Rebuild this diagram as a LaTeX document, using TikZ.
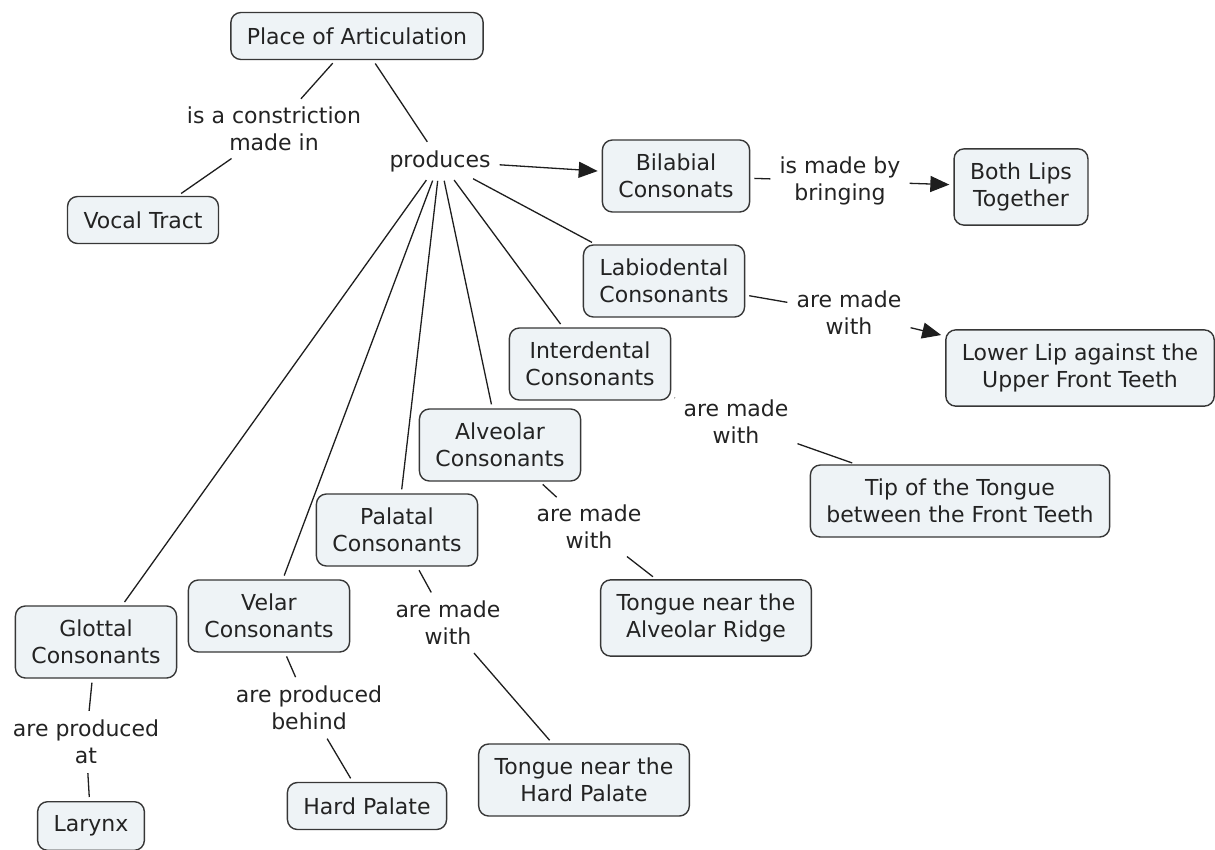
\documentclass[tikz,border=0pt]{standalone}
\usepackage{fontspec}
\setmainfont{DejaVu Sans}
\usetikzlibrary{arrows.meta,positioning}
\definecolor{conceptFill}{RGB}{238,243,246}
\definecolor{conceptLine}{RGB}{55,55,55}
\definecolor{linkLine}{RGB}{30,30,30}
\definecolor{textInk}{RGB}{35,35,35}

\begin{document}
\begin{tikzpicture}[x=1pt,y=-1pt,
    concept/.style={draw=conceptLine, fill=conceptFill, line width=1.4pt,
      rounded corners=10pt, align=center, inner xsep=16pt, inner ysep=14pt,
      minimum height=47pt, text=textInk, font=\fontsize{22}{27}\selectfont},
    phrase/.style={align=center, inner sep=5pt, text=textInk,
      font=\fontsize{22}{27}\selectfont},
    link/.style={linkLine, line width=1.3pt, shorten <=4pt, shorten >=4pt},
    linkarrow/.style={link, -{Triangle[length=19pt,width=16pt]}}]
  \useasboundingbox (0,0) rectangle (1215,849);

  % root and its two phrases
  \node[concept] (poa) at (357,36) {Place of Articulation};
  \node[phrase] (constr) at (274,129) {is a constriction\\made in};
  \node[concept] (vocal) at (143,220) {Vocal Tract};
  \node[phrase] (prod) at (440,161) {produces};

  % bilabial
  \node[concept] (bilab) at (676,176) {Bilabial\\Consonats};
  \node[phrase] (bring) at (840,181) {is made by\\bringing};
  \node[concept] (lips) at (1021,187) {Both Lips\\Together};

  % labiodental
  \node[concept] (labio) at (664,281) {Labiodental\\Consonants};
  \node[phrase] (withA) at (849,313) {are made\\with};
  \node[concept] (lower) at (1080,368) {Lower Lip against the\\Upper Front Teeth};

  % interdental
  \node[concept] (inter) at (590,364) {Interdental\\Consonants};
  \node[phrase] (withB) at (736,422) {are made\\with};
  \node[concept] (tip) at (960,501) {Tip of the Tongue\\between the Front Teeth};

  % alveolar
  \node[concept] (alveo) at (500,445) {Alveolar\\Consonants};
  \node[phrase] (withC) at (589,527) {are made\\with};
  \node[concept] (ridge) at (706,618) {Tongue near the\\Alveolar Ridge};

  % palatal
  \node[concept] (palat) at (397,530) {Palatal\\Consonants};
  \node[phrase] (withD) at (448,623) {are made\\with};
  \node[concept] (hardT) at (584,780) {Tongue near the\\Hard Palate};

  % velar
  \node[concept] (velar) at (269,616) {Velar\\Consonants};
  \node[phrase] (behind) at (309,708) {are produced\\behind};
  \node[concept] (hardP) at (367,806) {Hard Palate};

  % glottal
  \node[concept] (glott) at (96,642) {Glottal\\Consonants};
  \node[phrase] (prodAt) at (86,742) {are produced\\at};
  \node[concept] (larynx) at (91,826) {Larynx};

  % connectors
  \draw[link] (poa) -- (constr);
  \draw[link] (constr) -- (vocal);
  \draw[link] (poa) -- (prod);
  \draw[linkarrow] (prod) -- (bilab);
  \foreach \target in {labio,inter,alveo,palat,velar,glott}
    \draw[link] (prod) -- (\target);

  \draw[link] (bilab) -- (bring);
  \draw[linkarrow] (bring) -- (lips);
  \draw[link] (labio) -- (withA);
  \draw[linkarrow] (withA) -- (lower);
  \draw[link] (inter) -- (withB);
  \draw[link] (withB) -- (tip);
  \draw[link] (alveo) -- (withC);
  \draw[link] (withC) -- (ridge);
  \draw[link] (palat) -- (withD);
  \draw[link] (withD) -- (hardT);
  \draw[link] (velar) -- (behind);
  \draw[link] (behind) -- (hardP);
  \draw[link] (glott) -- (prodAt);
  \draw[link] (prodAt) -- (larynx);
\end{tikzpicture}
\end{document}
